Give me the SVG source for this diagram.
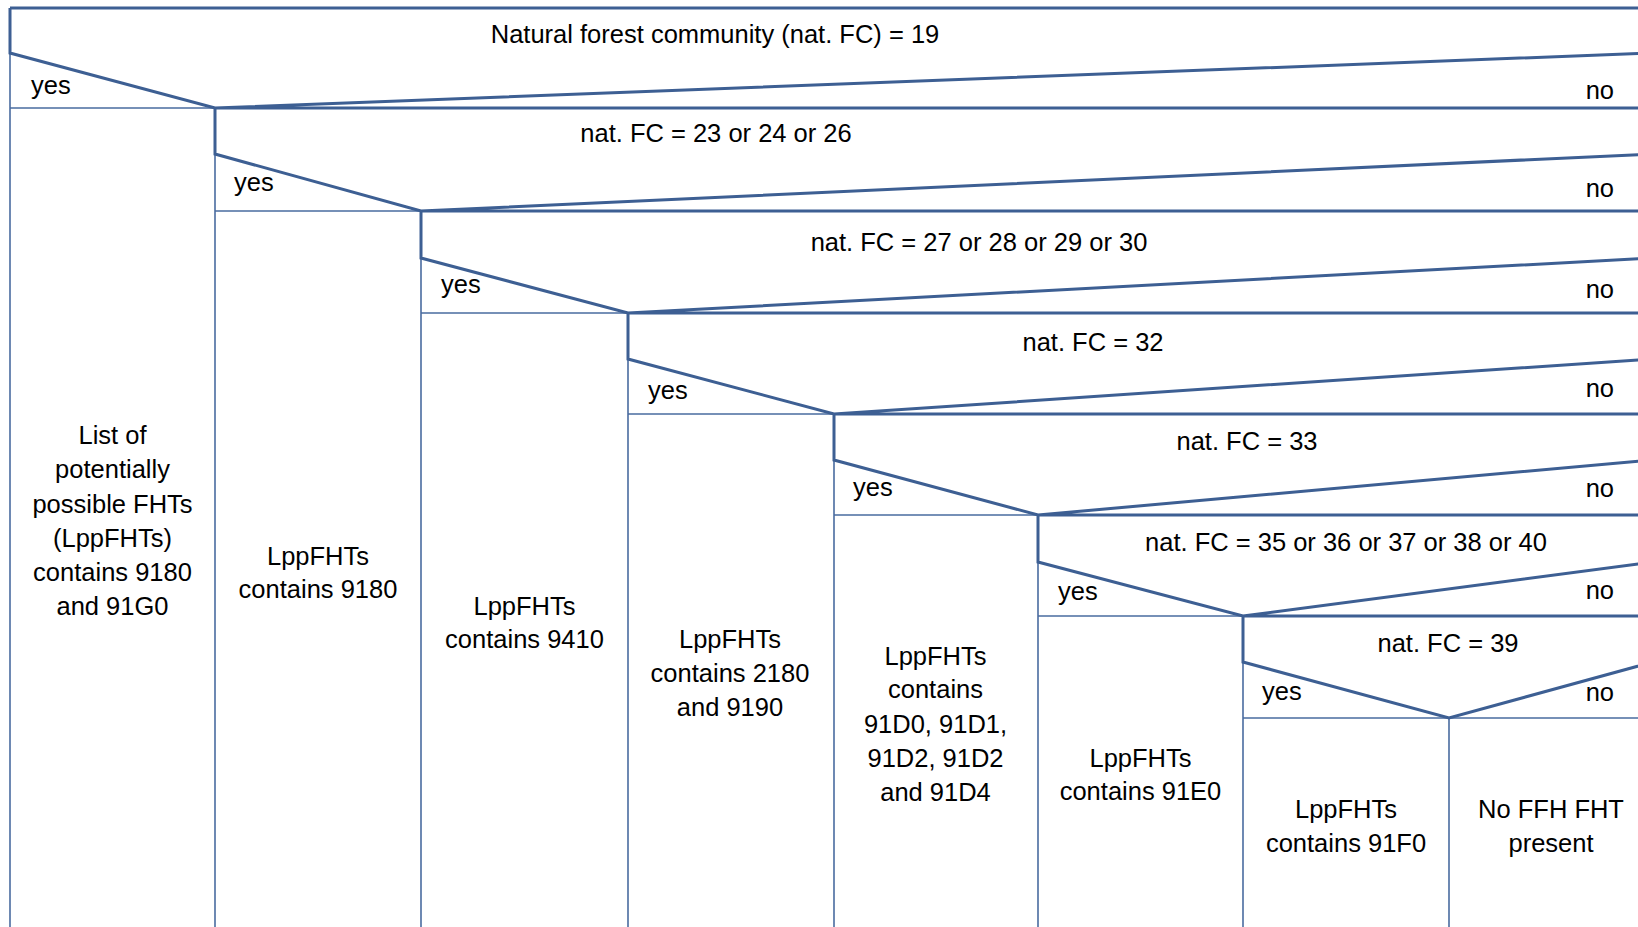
<svg xmlns="http://www.w3.org/2000/svg" width="1638" height="927" viewBox="0 0 1638 927">
<style>
.thick{fill:none;stroke:#3d5f93;stroke-width:3;stroke-linejoin:miter}
.thin{fill:none;stroke:#4a6ca0;stroke-width:1.6}
text{font-family:"Liberation Sans",Arial,sans-serif;font-size:25.5px;fill:#000}
.c{text-anchor:middle}
.r{text-anchor:end}
</style>
<rect x="0" y="0" width="1638" height="927" fill="#fff"/>
<g id="connectors">
<path class="thin" d="M10,53 V927 M10,108 H215 M215,154 V927 M215,211 H421 M421,258 V927 M421,313 H628 M628,359 V927 M628,414 H834 M834,460 V927 M834,515 H1038 M1038,562 V927 M1038,616 H1243 M1243,662 V927 M1243,718 H1653 M1449,718 V927"/>
<path class="thick" d="M10,8 H1653 M10,8 V53 L215,108 L1653,53 M215,108 H1653 M215,108 V154 L421,211 L1653,154 M421,211 H1653 M421,211 V258 L628,313 L1653,258 M628,313 H1653 M628,313 V359 L834,414 L1653,359 M834,414 H1653 M834,414 V460 L1038,515 L1653,460 M1038,515 H1653 M1038,515 V562 L1243,616 L1653,562 M1243,616 H1653 M1243,616 V662 L1449,718 L1653,662"/>
</g>
<g id="q1"><text class="c" x="715" y="43">Natural forest community (nat. FC) = 19</text><text x="31" y="94">yes</text><text class="r" x="1614" y="99">no</text></g>
<g id="q2"><text class="c" x="716" y="142">nat. FC = 23 or 24 or 26</text><text x="234" y="191">yes</text><text class="r" x="1614" y="197">no</text></g>
<g id="q3"><text class="c" x="979" y="251">nat. FC = 27 or 28 or 29 or 30</text><text x="441" y="293">yes</text><text class="r" x="1614" y="298">no</text></g>
<g id="q4"><text class="c" x="1093" y="351">nat. FC = 32</text><text x="648" y="399">yes</text><text class="r" x="1614" y="397">no</text></g>
<g id="q5"><text class="c" x="1247" y="450">nat. FC = 33</text><text x="853" y="496">yes</text><text class="r" x="1614" y="497">no</text></g>
<g id="q6"><text class="c" x="1346" y="551">nat. FC = 35 or 36 or 37 or 38 or 40</text><text x="1058" y="600">yes</text><text class="r" x="1614" y="599">no</text></g>
<g id="q7"><text class="c" x="1448" y="652">nat. FC = 39</text><text x="1262" y="700">yes</text><text class="r" x="1614" y="701">no</text></g>
<g id="r1"><text class="c" x="112.5" y="444">List of</text><text class="c" x="112.5" y="478">potentially</text><text class="c" x="112.5" y="513">possible FHTs</text><text class="c" x="112.5" y="547">(LppFHTs)</text><text class="c" x="112.5" y="581">contains 9180</text><text class="c" x="112.5" y="615">and 91G0</text></g>
<g id="r2"><text class="c" x="318" y="565">LppFHTs</text><text class="c" x="318" y="598">contains 9180</text></g>
<g id="r3"><text class="c" x="524.5" y="615">LppFHTs</text><text class="c" x="524.5" y="648">contains 9410</text></g>
<g id="r4"><text class="c" x="730" y="648">LppFHTs</text><text class="c" x="730" y="682">contains 2180</text><text class="c" x="730" y="716">and 9190</text></g>
<g id="r5"><text class="c" x="935.5" y="665">LppFHTs</text><text class="c" x="935.5" y="698">contains</text><text class="c" x="935.5" y="733">91D0, 91D1,</text><text class="c" x="935.5" y="767">91D2, 91D2</text><text class="c" x="935.5" y="801">and 91D4</text></g>
<g id="r6"><text class="c" x="1140.5" y="767">LppFHTs</text><text class="c" x="1140.5" y="800">contains 91E0</text></g>
<g id="r7"><text class="c" x="1346" y="818">LppFHTs</text><text class="c" x="1346" y="852">contains 91F0</text></g>
<g id="r8"><text class="c" x="1551" y="818">No FFH FHT</text><text class="c" x="1551" y="852">present</text></g>
</svg>
